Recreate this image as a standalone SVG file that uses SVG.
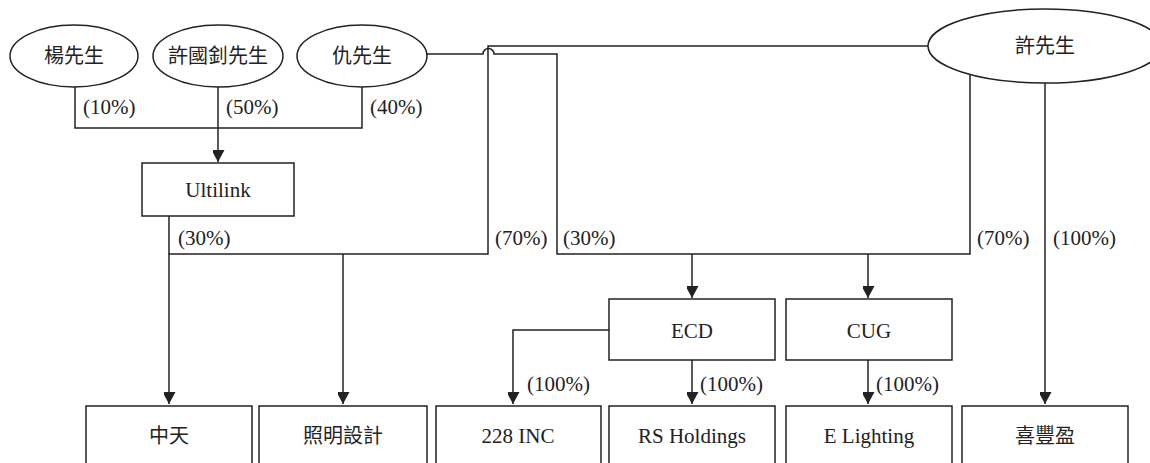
<svg xmlns="http://www.w3.org/2000/svg" width="1150" height="463" viewBox="0 0 1150 463">
<style>
  .shape { fill: #ffffff; stroke: #222; stroke-width: 1.5; }
  .line { fill: none; stroke: #222; stroke-width: 1.5; }
  .arrow { fill: none; stroke: #222; stroke-width: 1.5; marker-end: url(#ah); }
  .lat { font-family: "Liberation Serif", "Times New Roman", serif; font-size: 21px; fill: #222; }
  .cjk { font-family: "Liberation Serif", "Noto Sans CJK TC", serif; font-size: 20px; fill: #222; }
  .mid { text-anchor: middle; }
</style>
<defs>
  <marker id="ah" markerWidth="13" markerHeight="12" refX="12" refY="6.5" orient="auto" markerUnits="userSpaceOnUse">
    <path d="M0,0 L12,6.5 L0,13 Z" fill="#222"/>
  </marker>
</defs>
<rect width="1150" height="463" fill="#ffffff"/>

<g id="connectors">
  <path class="line" d="M75,87 V128 H362 V87"/>
  <path class="arrow" d="M218,87 V162"/>
  <path class="line" d="M169,216 V254 H488 V46 H928"/>
  <path class="arrow" d="M169,254 V404"/>
  <path class="arrow" d="M343,254 V404"/>
  <path class="line" d="M427,54 H483 A5.5,5.5 0 0 1 494,54 H557 V254 H970 V74"/>
  <path class="arrow" d="M692,254 V298"/>
  <path class="arrow" d="M868,254 V298"/>
  <path class="arrow" d="M609,330 H513 V404"/>
  <path class="arrow" d="M692,360 V404"/>
  <path class="arrow" d="M868,360 V404"/>
  <path class="arrow" d="M1045,83 V404"/>
  <text class="lat" x="83" y="114">(10%)</text>
  <text class="lat" x="226" y="114">(50%)</text>
  <text class="lat" x="370" y="114">(40%)</text>
  <text class="lat" x="178" y="245">(30%)</text>
  <text class="lat" x="495" y="245">(70%)</text>
  <text class="lat" x="563" y="245">(30%)</text>
  <text class="lat" x="977" y="245">(70%)</text>
  <text class="lat" x="1053" y="245">(100%)</text>
  <text class="lat" x="527" y="391">(100%)</text>
  <text class="lat" x="700" y="391">(100%)</text>
  <text class="lat" x="876" y="391">(100%)</text>
</g>

<g id="yang">
  <ellipse class="shape" cx="74" cy="56" rx="64" ry="31"/>
  <text class="cjk mid" x="74" y="63">楊先生</text>
</g>
<g id="xu-guozhao">
  <ellipse class="shape" cx="218" cy="56" rx="65" ry="31"/>
  <text class="cjk mid" x="218" y="63">許國釗先生</text>
</g>
<g id="qiu">
  <ellipse class="shape" cx="362" cy="56" rx="65" ry="31"/>
  <text class="cjk mid" x="362" y="63">仇先生</text>
</g>
<g id="xu">
  <ellipse class="shape" cx="1045" cy="46" rx="117" ry="37"/>
  <text class="cjk mid" x="1045" y="53">許先生</text>
</g>
<g id="ultilink">
  <rect class="shape" x="142" y="163" width="152" height="53"/>
  <text class="lat mid" x="218" y="197">Ultilink</text>
</g>
<g id="ecd">
  <rect class="shape" x="609" y="299" width="166" height="61"/>
  <text class="lat mid" x="692" y="338">ECD</text>
</g>
<g id="cug">
  <rect class="shape" x="786" y="299" width="166" height="61"/>
  <text class="lat mid" x="869" y="338">CUG</text>
</g>
<g id="zhongtian">
  <rect class="shape" x="86" y="406" width="166" height="80"/>
  <text class="cjk mid" x="169" y="443">中天</text>
</g>
<g id="zhaoming">
  <rect class="shape" x="259" y="406" width="168" height="80"/>
  <text class="cjk mid" x="343" y="443">照明設計</text>
</g>
<g id="inc228">
  <rect class="shape" x="436" y="406" width="165" height="80"/>
  <text class="lat mid" x="518" y="443">228 INC</text>
</g>
<g id="rs">
  <rect class="shape" x="609" y="406" width="166" height="80"/>
  <text class="lat mid" x="692" y="443">RS Holdings</text>
</g>
<g id="elighting">
  <rect class="shape" x="786" y="406" width="166" height="80"/>
  <text class="lat mid" x="869" y="443">E Lighting</text>
</g>
<g id="xifengying">
  <rect class="shape" x="962" y="406" width="166" height="80"/>
  <text class="cjk mid" x="1045" y="443">喜豐盈</text>
</g>
</svg>
